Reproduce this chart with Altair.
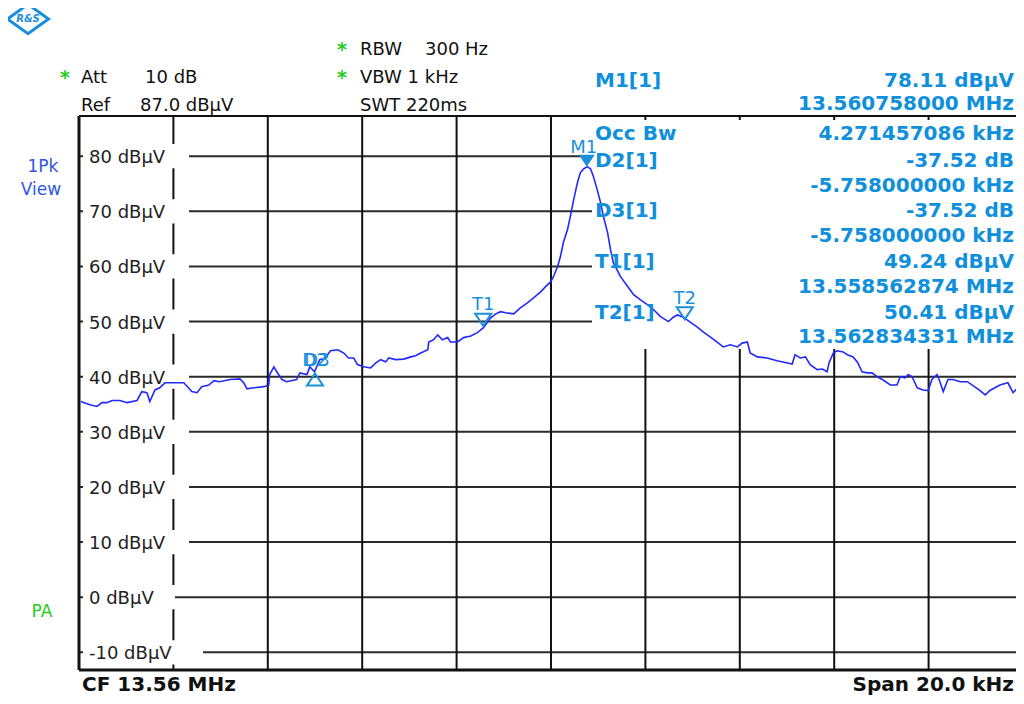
import altair as alt
import pandas as pd

# ---------------- data ----------------
freq_khz = [
    -9.96, -9.89, -9.77, -9.62, -9.51, -9.41, -9.30, -9.13, -8.98, -8.77,
    -8.67, -8.56, -8.50, -8.39, -8.29, -8.18, -8.03, -7.93, -7.78, -7.61,
    -7.50, -7.40, -7.25, -7.14, -7.02, -6.80, -6.59, -6.51, -6.44, -6.30,
    -6.08, -5.98, -5.96, -5.87, -5.81, -5.70, -5.60, -5.39, -5.32, -5.17,
    -5.11, -5.01, -4.90, -4.79, -4.67, -4.52, -4.39, -4.29, -4.18, -4.10,
    -3.97, -3.82, -3.71, -3.61, -3.50, -3.44, -3.29, -3.12, -2.97, -2.87,
    -2.76, -2.61, -2.59, -2.49, -2.40, -2.30, -2.19, -2.13, -1.98, -1.85,
    -1.70, -1.56, -1.43, -1.28, -1.17, -1.07, -0.96, -0.79, -0.65, -0.50,
    -0.37, -0.22, -0.12, -0.01, 0.05, 0.14, 0.20, 0.26, 0.35, 0.41,
    0.48, 0.56, 0.62, 0.69, 0.77, 0.84, 0.90, 0.98, 1.05, 1.11,
    1.20, 1.26, 1.32, 1.47, 1.62, 1.75, 1.89, 2.04, 2.17, 2.32,
    2.49, 2.59, 2.68, 2.80, 2.95, 3.10, 3.23, 3.38, 3.52, 3.65,
    3.80, 3.95, 4.05, 4.16, 4.22, 4.37, 4.58, 4.79, 5.01, 5.11,
    5.17, 5.28, 5.39, 5.49, 5.64, 5.75, 5.85, 5.89, 5.98, 6.06,
    6.19, 6.28, 6.40, 6.49, 6.59, 6.70, 6.80, 6.91, 7.02, 7.19,
    7.33, 7.40, 7.50, 7.57, 7.65, 7.76, 7.88, 7.99, 8.07, 8.18,
    8.24, 8.31, 8.41, 8.52, 8.67, 8.82, 8.94, 9.09, 9.20, 9.30,
    9.51, 9.68, 9.79, 9.89, 10.00,
]
level_dbuv = [
    35.5, 35.3, 34.9, 34.6, 35.3, 35.3, 35.7, 35.7, 35.3, 35.7,
    37.3, 37.1, 35.5, 37.6, 38.0, 38.9, 38.9, 38.9, 38.9, 37.3,
    37.1, 38.2, 38.5, 39.3, 39.1, 39.5, 39.6, 38.9, 37.8, 38.0,
    38.2, 38.5, 40.4, 41.8, 40.9, 39.5, 39.1, 39.5, 40.7, 40.4,
    41.8, 40.9, 43.1, 43.4, 44.7, 44.9, 44.3, 43.4, 43.4, 42.2,
    41.8, 41.6, 42.5, 43.1, 42.7, 43.4, 43.1, 43.2, 43.6, 43.8,
    44.3, 44.9, 46.3, 46.7, 47.6, 46.7, 47.1, 46.3, 46.3, 47.1,
    47.4, 48.0, 48.9, 50.7, 51.4, 51.8, 51.6, 51.4, 52.5, 53.4,
    54.3, 55.4, 56.3, 57.2, 58.1, 60.0, 61.8, 64.3, 66.7, 69.1,
    72.1, 75.2, 77.0, 77.7, 78.1, 77.7, 76.3, 73.9, 71.6, 69.1,
    66.1, 63.1, 60.7, 58.2, 56.4, 54.9, 54.0, 53.1, 52.2, 50.9,
    50.0, 50.8, 51.2, 50.8, 49.9, 49.0, 48.1, 47.2, 46.3, 45.4,
    45.8, 45.4, 46.1, 46.3, 44.3, 43.6, 43.4, 42.9, 42.5, 42.3,
    44.0, 43.4, 43.6, 42.2, 41.3, 41.4, 40.9, 42.5, 44.3, 44.7,
    44.5, 44.0, 43.6, 42.7, 40.9, 40.7, 40.7, 40.0, 39.5, 38.5,
    38.5, 40.0, 39.8, 40.4, 40.0, 38.0, 37.6, 37.5, 39.5, 40.4,
    39.1, 37.3, 39.5, 39.5, 39.1, 39.1, 38.4, 37.5, 36.7, 37.5,
    38.5, 38.9, 37.1, 38.0, 37.6,
]

grid_levels = [80, 70, 60, 50, 40, 30, 20, 10, 0, -10]
grid_labels = [f"{v} dBµV" for v in grid_levels]
vgrid_khz = [-8, -6, -4, -2, 0, 2, 4, 6, 8]

marker_names = ["M1", "T1", "T2", "D2", "D3"]
marker_khz = [0.758, -1.437, 2.834, -5.0, -5.0]
marker_level = [78.11, 49.24, 50.41, 40.59, 40.59]

panel_left = ["M1[1]", "", "Occ Bw", "D2[1]", "", "D3[1]", "", "T1[1]", "", "T2[1]", ""]
panel_right = ["78.11 dBµV", "13.560758000 MHz", "4.271457086 kHz", "-37.52 dB",
               "-5.758000000 kHz", "-37.52 dB", "-5.758000000 kHz", "49.24 dBµV",
               "13.558562874 MHz", "50.41 dBµV", "13.562834331 MHz"]

# ---------------- layout / style ----------------
W, H = 937, 554          # page is only 1008 px wide inside its margins
PX_PER_KHZ = 47.2
PAD_L, PAD_T, PAD_B = 71, 108, 26
X0, Y0 = 8 + PAD_L, 8 + PAD_T        # page position of plot origin
FONT = "DejaVu Sans"
MARK_BLUE = "#1a8fdc"
PANEL_BLUE = "#1090dc"
TRACE = "#2229ff"
GREEN = "#22cc22"
RIGHT = 1014

xscale = alt.Scale(domain=[-10, -10 + W / PX_PER_KHZ], nice=False, zero=False)
yscale = alt.Scale(domain=[-13.2, 87.3], nice=False, zero=False)


def X(f):
    return alt.X(f, type="quantitative", scale=xscale, axis=None)


def Y(f):
    return alt.Y(f, type="quantitative", scale=yscale, axis=None)


one = pd.DataFrame({"a": [0]})


def txt(s, px, py, size=18, weight="normal", color="#111111", align="left"):
    return alt.Chart(pd.DataFrame({"t": [s]})).mark_text(
        align=align, baseline="alphabetic", fontSize=size, fontWeight=weight,
        color=color, font=FONT
    ).encode(text="t:N", x=alt.value(px - X0), y=alt.value(py - Y0))


grid_df = pd.DataFrame({"level": grid_levels, "lab": grid_labels})

hgrid = alt.Chart(grid_df).mark_rule(color="#2a2a2a", strokeWidth=2).encode(
    y=Y("level"), x=alt.value(0), x2=alt.value(W))
vgrid = alt.Chart(pd.DataFrame({"f": vgrid_khz})).mark_rule(color="#111111", strokeWidth=2).encode(
    x=X("f"), y=alt.value(0), y2=alt.value(H))

label_boxes = alt.Chart(grid_df).transform_calculate(
    x0=f"-10 + 4/{PX_PER_KHZ}",
    x1=f"-10 + (12 + 14*length(datum.lab))/{PX_PER_KHZ}",
    y0="datum.level - 2.2",
    y1="datum.level + 2.2",
).mark_rect(color="white").encode(x=X("x0"), x2="x1:Q", y=Y("y0"), y2="y1:Q")

panel_box = alt.Chart(one).mark_rect(color="white").encode(
    x=alt.value(513), x2=alt.value(W + 2), y=alt.value(4), y2=alt.value(233))

frame_top = alt.Chart(one).mark_rule(color="#111111", strokeWidth=2).encode(
    x=alt.value(0), x2=alt.value(W), y=alt.value(0))
frame_left = alt.Chart(one).mark_rule(color="#111111", strokeWidth=3).encode(
    x=alt.value(0), y=alt.value(0), y2=alt.value(H))
frame_bottom = alt.Chart(one).mark_rule(color="#111111", strokeWidth=3).encode(
    x=alt.value(0), x2=alt.value(W), y=alt.value(H))

ylabels = alt.Chart(grid_df).mark_text(
    align="left", baseline="middle", dy=2, fontSize=18, font=FONT, color="#222222"
).encode(x=alt.value(10), y=Y("level"), text="lab:N")

trace = alt.Chart(pd.DataFrame({"f": freq_khz, "lvl": level_dbuv})).mark_line(
    color=TRACE, strokeWidth=1.6, clip=True).encode(x=X("f"), y=Y("lvl"), order="f:Q")

mk = pd.DataFrame({"name": marker_names, "f": marker_khz, "lvl": marker_level})
DOWN = "M0,0L-1,-1.5L1,-1.5Z"
UP = "M0,0L-1,1.5L1,1.5Z"

m1 = alt.Chart(mk).transform_filter("datum.name == 'M1'").mark_point(
    shape=DOWN, size=256, filled=True, color=MARK_BLUE, opacity=1).encode(x=X("f"), y=Y("lvl"))
tmk = alt.Chart(mk).transform_filter("datum.name == 'T1' || datum.name == 'T2'").mark_point(
    shape=DOWN, size=256, filled=False, color=MARK_BLUE, strokeWidth=2, opacity=1).encode(x=X("f"), y=Y("lvl"))
dmk = alt.Chart(mk).transform_filter("datum.name == 'D2'").mark_point(
    shape=UP, size=256, filled=False, color=MARK_BLUE, strokeWidth=2, opacity=1).encode(x=X("f"), y=Y("lvl"))

offsets = {"M1": (-3, -14), "T1": (0, -16), "T2": (0, -15), "D2": (0, -7), "D3": (2, -7)}
mlabels = []
for n in marker_names:
    dx, dy = offsets[n]
    mlabels.append(
        alt.Chart(mk).transform_filter(f"datum.name == '{n}'").mark_text(
            align="center", baseline="alphabetic", dx=dx, dy=dy, fontSize=18, font=FONT,
            color=MARK_BLUE).encode(x=X("f"), y=Y("lvl"), text="name:N"))

# marker panel
panel_baselines = [87, 110, 140, 167, 192, 217, 242, 268, 293, 319, 343]
panel_layers = []
for l, r, b in zip(panel_left, panel_right, panel_baselines):
    if l:
        panel_layers.append(txt(l, 595, b, size=20, weight="bold", color=PANEL_BLUE))
    panel_layers.append(txt(r, RIGHT, b, size=20, weight="bold", color=PANEL_BLUE, align="right"))

header = [
    txt("*", 60, 84, size=19, weight="bold", color=GREEN),
    txt("Att", 81, 83), txt("10 dB", 145, 83),
    txt("Ref", 81, 111), txt("87.0 dBµV", 140, 111),
    txt("*", 337, 56, size=19, weight="bold", color=GREEN),
    txt("RBW", 360, 55), txt("300 Hz", 425, 55),
    txt("*", 337, 84, size=19, weight="bold", color=GREEN),
    txt("VBW 1 kHz", 360, 83),
    txt("SWT 220ms", 360, 111),
    txt("1Pk", 43, 172, size=17, color="#2f55e6", align="center"),
    txt("View", 41, 195, size=17, color="#2f55e6", align="center"),
    txt("PA", 42, 617, size=17, color=GREEN, align="center"),
    txt("CF 13.56 MHz", 82, 691, size=20, weight="bold"),
    txt("Span 20.0 kHz", RIGHT, 691, size=20, weight="bold", align="right"),
]

logo = alt.Chart(one).mark_point(
    shape="M-1,0L0,-0.72L1,0L0,0.72Z", size=1681, filled=True, fill="white",
    stroke=MARK_BLUE, strokeWidth=3, opacity=1
).encode(x=alt.value(28 - X0), y=alt.value(19 - Y0))
logo_t = alt.Chart(pd.DataFrame({"t": ["R&S"]})).mark_text(
    fontSize=10, fontWeight="bold", fontStyle="italic", font=FONT, color=MARK_BLUE,
    align="center", baseline="middle").encode(text="t:N", x=alt.value(28 - X0), y=alt.value(19 - Y0))

chart = alt.layer(
    hgrid, vgrid, label_boxes, panel_box, frame_top, frame_left, frame_bottom,
    ylabels, trace, m1, tmk, dmk, *mlabels, *panel_layers, *header, logo, logo_t
).properties(
    width=W, height=H,
    autosize=alt.AutoSizeParams(type="none"),
    padding={"left": PAD_L, "top": PAD_T, "right": 0, "bottom": PAD_B},
    background="white",
).configure_view(stroke=None)

chart.save("out.html", embed_options={"renderer": "svg", "actions": False})
